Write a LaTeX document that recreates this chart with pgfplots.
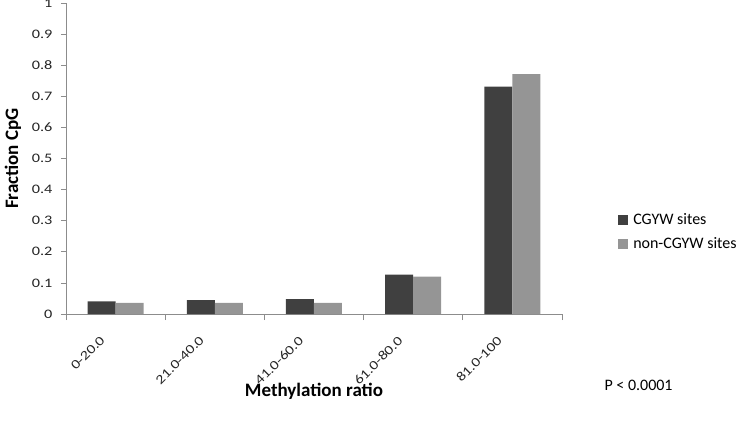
\documentclass[border=0pt]{standalone}
\usepackage{pgfplots}
\pgfplotsset{compat=1.18}
\usepackage{fontspec}
\setmainfont{Carlito}
\newfontfamily\tickfont[FakeStretch=1.25]{Carlito}
\definecolor{darkbar}{HTML}{404040}
\definecolor{lightbar}{HTML}{959595}
\definecolor{axisgray}{HTML}{8C8C8C}
\begin{document}
\begin{tikzpicture}[x=1pt,y=1pt]
\useasboundingbox (0,0) rectangle (739,432);
\begin{axis}[
  at={(66pt,118pt)}, anchor=south west,
  scale only axis, width=496pt, height=311pt,
  ybar=0pt, bar width=28pt,
  xmin=-0.5, xmax=4.5, ymin=0, ymax=1,
  axis x line*=bottom, axis y line*=left,
  axis line style={axisgray, line width=0.8pt},
  xtick={0,1,2,3,4},
  xticklabels={0-20.0,21.0-40.0,41.0-60.0,61.0-80.0,81.0-100},
  major x tick style={draw=none},
  minor xtick={-0.5,0.5,1.5,2.5,3.5,4.5},
  minor tick length=6pt,
  ytick={0,0.1,...,1.0},
  yticklabels={0,0.1,0.2,0.3,0.4,0.5,0.6,0.7,0.8,0.9,1},
  major tick length=5pt,
  tick align=outside,
  tick style={axisgray, line width=0.8pt},
  ticklabel style={font=\tickfont\fontsize{13}{15}\selectfont, text=black!85},
  xticklabel style={xshift=-16pt, yshift=-16pt, rotate=45, anchor=north east, inner sep=0pt},
  yticklabel style={xshift=-5pt},
  xlabel={Methylation ratio},
  ylabel={Fraction CpG},
  every axis x label/.style={at={(rel axis cs:0.5,0)}, yshift=-77pt, anchor=center,
    font=\bfseries\fontsize{19}{22}\selectfont},
  every axis y label/.style={at={(rel axis cs:0,0.5)}, xshift=-53pt, rotate=90, anchor=center,
    font=\bfseries\fontsize{19}{22}\selectfont},
  legend style={at={(rel axis cs:1.113,0.264)}, anchor=west, draw=none, fill=none,
    font=\fontsize{16}{18}\selectfont, row sep=11pt, inner sep=0pt,
    nodes={inner xsep=0pt, inner ysep=0pt},
    /tikz/every odd column/.append style={column sep=5pt}},
  legend cell align=left,
  legend image code/.code={\fill[#1] (0pt,-5pt) rectangle (10pt,5pt);},
  clip=false,
]
\addplot[fill=darkbar, draw=none] coordinates {(0,0.041) (1,0.045) (2,0.048) (3,0.127) (4,0.731)};
\addplot[fill=lightbar, draw=none] coordinates {(0,0.036) (1,0.036) (2,0.036) (3,0.120) (4,0.771)};
\legend{CGYW sites, non-CGYW sites}
\end{axis}
\node[anchor=west, font=\fontsize{16}{18}\selectfont] at (601,47) {P {\char`\<} 0.0001};
\end{tikzpicture}
\end{document}
